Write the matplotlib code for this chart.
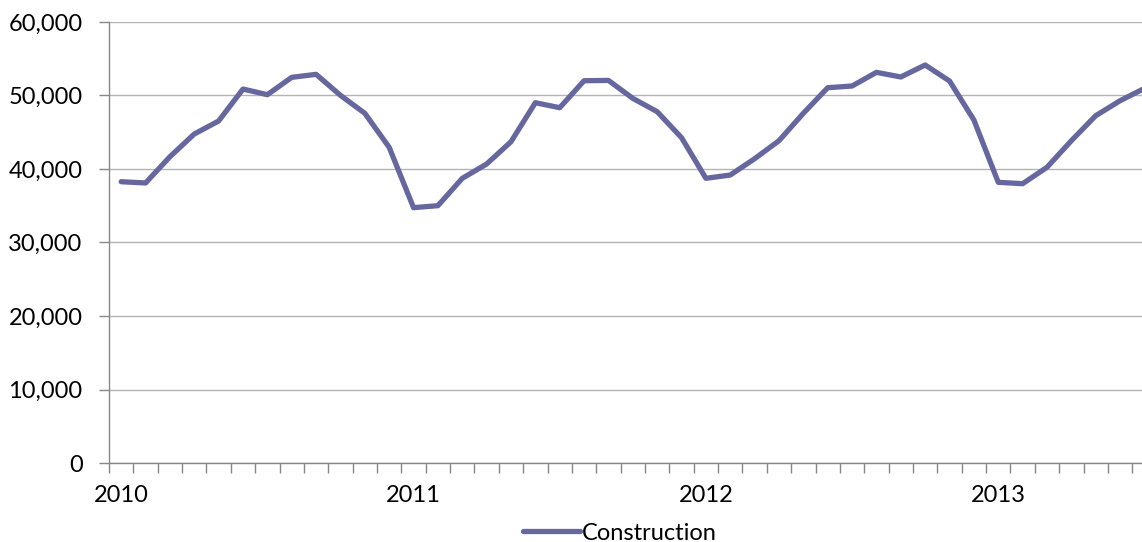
import numpy as np
import matplotlib
matplotlib.use("Agg")
import matplotlib.pyplot as plt
from matplotlib.ticker import FuncFormatter, MultipleLocator, FixedLocator

plt.rcParams['font.family'] = ['Lato', 'DejaVu Sans']

# monthly values, Jan 2010 .. Jul 2013
construction = [
    38270, 38100, 41670, 44760, 46530, 50880, 50110, 52470, 52880, 50020, 47580, 42950,
    34740, 35010, 38730, 40680, 43710, 49020, 48340, 52010, 52050, 49610, 47800, 44260,
    38730, 39180, 41400, 43850, 47580, 51060, 51290, 53150, 52520, 54150, 51970, 46670,
    38190, 38000, 40230, 43850, 47250, 49290, 50970,
]
year_labels = ["2010", "2011", "2012", "2013"]
series_name = "Construction"

line_color = "#67679f"
grid_color = "#b3b3b3"
axis_color = "#878787"

fig = plt.figure(figsize=(11.42, 5.42), dpi=100)
ax = fig.add_axes([109 / 1142, 79 / 542, 1033 / 1142, 441 / 542])

x = np.arange(len(construction))
ax.plot(x, construction, color=line_color, linewidth=3.8, solid_joinstyle='round',
        solid_capstyle='round', label=series_name, clip_on=False, zorder=3)

ax.set_xlim(-0.5, 41.9)
ax.set_ylim(0, 60000)

# y axis
ax.yaxis.set_major_locator(MultipleLocator(10000))
ax.yaxis.set_major_formatter(FuncFormatter(lambda v, p: f"{int(v):,}"))
ax.grid(axis='y', color=grid_color, linewidth=1.0)
ax.set_axisbelow(True)
ax.tick_params(axis='y', length=7, width=1, color=axis_color, pad=12, labelsize=17)

# x axis: labels at January of each year, ticks between months
ax.xaxis.set_major_locator(FixedLocator([0, 12, 24, 36]))
ax.set_xticklabels(year_labels)
ax.xaxis.set_minor_locator(FixedLocator(np.arange(len(construction) + 1) - 0.5))
ax.tick_params(axis='x', which='major', length=0, pad=16, labelsize=17)
ax.tick_params(axis='x', which='minor', length=7, width=1, color=axis_color)

for side in ['top', 'right']:
    ax.spines[side].set_visible(False)
for side in ['left', 'bottom']:
    ax.spines[side].set_color(axis_color)
    ax.spines[side].set_linewidth(1.0)

fig.legend(loc='center', bbox_to_anchor=(620 / 1142, 1 - 533 / 542), frameon=False,
           fontsize=17, handlelength=2.4, handletextpad=0.1)

fig.savefig("out.png", dpi=100)
